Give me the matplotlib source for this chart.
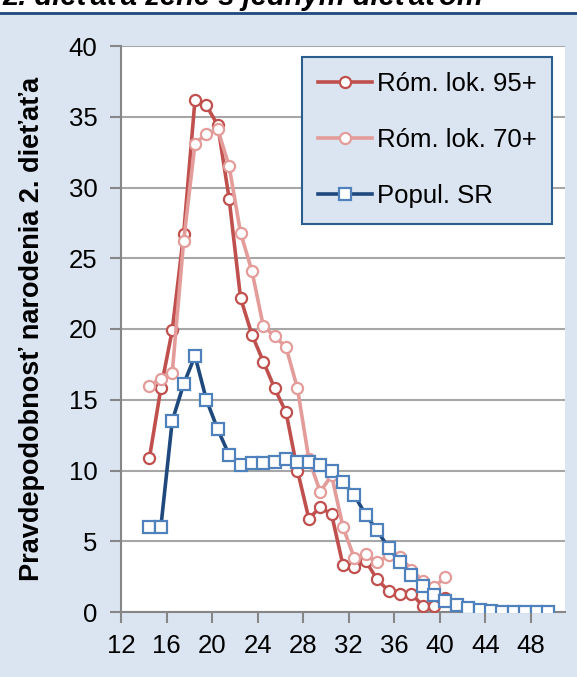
import numpy as np
import matplotlib
matplotlib.use('Agg')
import matplotlib.pyplot as plt
from matplotlib.patches import Rectangle
from matplotlib.lines import Line2D

plt.rcParams['font.family'] = ['Liberation Sans', 'DejaVu Sans']

# vek (stred intervalu)
age_rom = np.arange(14.5, 41.0, 1.0)
age_sr = np.arange(14.5, 50.0, 1.0)

rom95 = [10.9, 15.8, 19.9, 26.7, 36.2, 35.8, 34.4, 29.2, 22.2, 19.6, 17.7, 15.8, 14.1,
         10.0, 6.6, 7.4, 6.9, 3.3, 3.2, 3.6, 2.3, 1.5, 1.3, 1.3, 0.45, 0.45, 1.0]
rom70 = [16.0, 16.5, 16.9, 26.2, 33.1, 33.8, 34.1, 31.5, 26.8, 24.1, 20.2, 19.5, 18.7,
         15.8, 10.8, 8.5, 9.65, 6.0, 3.8, 4.1, 3.5, 4.0, 3.9, 3.0, 2.2, 1.75, 2.5]
popul_sr = [6.0, 6.0, 13.5, 16.1, 18.1, 15.0, 12.9, 11.1, 10.4, 10.5, 10.5, 10.6, 10.8,
            10.6, 10.6, 10.4, 9.97, 9.2, 8.24, 6.87, 5.76, 4.54, 3.55, 2.62, 1.82, 1.23,
            0.76, 0.52, 0.29, 0.12, 0.05, 0.02, 0.01, 0.0, 0.0, 0.0]

labels = ['Róm. lok. 95+', 'Róm. lok. 70+', 'Popul. SR']
xticks = np.arange(12, 49, 4)
yticks = np.arange(0, 41, 5)

bg = '#dbe5f1'
W, H = 577, 677
fig = plt.figure(figsize=(W / 100, H / 100), dpi=100, facecolor=bg)
ax = fig.add_axes([121 / W, 1 - 612 / H, (565 - 121) / W, (612 - 46) / H])
ax.set_facecolor('white')

# horny pruh s nadpisom (orezany)
fig.patches.append(Rectangle((0, 1 - 12 / H), 1, 12 / H, transform=fig.transFigure,
                             facecolor='white', edgecolor='none', zorder=0))
fig.lines.append(Line2D([0, 1], [1 - 12.5 / H, 1 - 12.5 / H], transform=fig.transFigure,
                        color='#1f497d', lw=2))
fig.text(0.004, 1 - 5 / H, '2. dieťaťa žene s jedným dieťaťom', fontsize=21,
         fontweight='bold', fontstyle='italic', va='baseline', ha='left')

ax.plot(age_rom, rom95, '-o', color='#c0504d', lw=2.6, ms=8, mfc='white',
        mec='#c0504d', mew=1.6, label=labels[0], zorder=3)
ax.plot(age_rom, rom70, '-o', color='#e39c9a', lw=2.6, ms=8, mfc='white',
        mec='#e39c9a', mew=1.6, label=labels[1], zorder=4)
ax.plot(age_sr, popul_sr, '-s', color='#1f497d', lw=2.6, ms=8, mfc='white',
        mec='#4f81bd', mew=1.6, label=labels[2], zorder=5)

ax.set_xlim(12, 51)
ax.set_ylim(0, 40)
ax.set_xticks(xticks)
ax.set_yticks(yticks)
ax.tick_params(axis='both', labelsize=18.5, color='#868686', width=1.5, length=8,
               direction='out')
ax.tick_params(axis='y', pad=9)
ax.tick_params(axis='x', pad=8)
ax.yaxis.grid(True, color='#a6a6a6', lw=1.5)
ax.set_axisbelow(True)
for s in ['top', 'right']:
    ax.spines[s].set_visible(False)
for s in ['left', 'bottom']:
    ax.spines[s].set_color('#868686')
    ax.spines[s].set_linewidth(1.5)

ax.set_ylabel('Pravdepodobnosť narodenia 2. dieťaťa', fontsize=19.5,
              fontweight='bold', labelpad=17)

leg = ax.legend(loc='upper right', bbox_to_anchor=(0.971, 0.981), fontsize=18.5,
                frameon=True, fancybox=False, handlelength=2.1, handletextpad=0.2,
                labelspacing=1.25, borderpad=0.6, borderaxespad=0)
leg.get_frame().set_facecolor(bg)
leg.get_frame().set_edgecolor('#2c5d8f')
leg.get_frame().set_linewidth(1.5)
leg.get_frame().set_alpha(1)

fig.savefig('out.png', dpi=100, facecolor=bg)
